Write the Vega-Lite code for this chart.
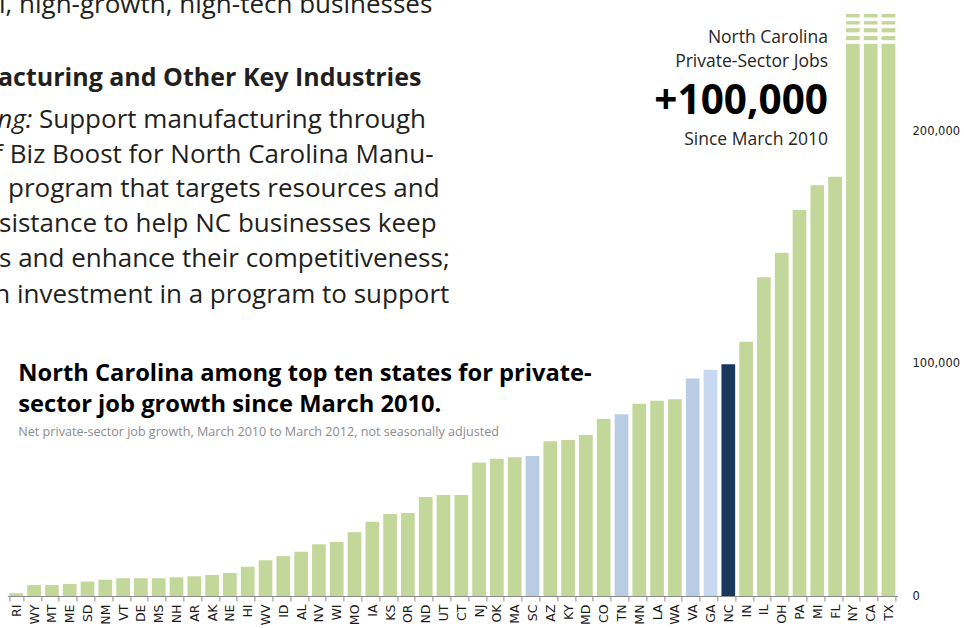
{
  "$schema": "https://vega.github.io/schema/vega-lite/v6.json",
  "width": 890,
  "height": 582,
  "autosize": {"type": "none"},
  "padding": {"left": 7.4, "top": 14, "right": 66.6, "bottom": 32},
  "background": "white",
  "config": {"view": {"stroke": null}},
  "datasets": {
    "jobs": [
      {"state": "RI", "jobs": 1200, "grp": "other"},
      {"state": "WY", "jobs": 4700, "grp": "other"},
      {"state": "MT", "jobs": 4700, "grp": "other"},
      {"state": "ME", "jobs": 5200, "grp": "other"},
      {"state": "SD", "jobs": 6200, "grp": "other"},
      {"state": "NM", "jobs": 7000, "grp": "other"},
      {"state": "VT", "jobs": 7600, "grp": "other"},
      {"state": "DE", "jobs": 7600, "grp": "other"},
      {"state": "MS", "jobs": 7700, "grp": "other"},
      {"state": "NH", "jobs": 8100, "grp": "other"},
      {"state": "AR", "jobs": 8500, "grp": "other"},
      {"state": "AK", "jobs": 9000, "grp": "other"},
      {"state": "NE", "jobs": 9900, "grp": "other"},
      {"state": "HI", "jobs": 12600, "grp": "other"},
      {"state": "WV", "jobs": 15400, "grp": "other"},
      {"state": "ID", "jobs": 17200, "grp": "other"},
      {"state": "AL", "jobs": 19100, "grp": "other"},
      {"state": "NV", "jobs": 22300, "grp": "other"},
      {"state": "WI", "jobs": 23300, "grp": "other"},
      {"state": "MO", "jobs": 27500, "grp": "other"},
      {"state": "IA", "jobs": 32000, "grp": "other"},
      {"state": "KS", "jobs": 35300, "grp": "other"},
      {"state": "OR", "jobs": 35800, "grp": "other"},
      {"state": "ND", "jobs": 42700, "grp": "other"},
      {"state": "UT", "jobs": 43500, "grp": "other"},
      {"state": "CT", "jobs": 43500, "grp": "other"},
      {"state": "NJ", "jobs": 57500, "grp": "other"},
      {"state": "OK", "jobs": 59200, "grp": "other"},
      {"state": "MA", "jobs": 59800, "grp": "other"},
      {"state": "SC", "jobs": 60300, "grp": "neighbor"},
      {"state": "AZ", "jobs": 66700, "grp": "other"},
      {"state": "KY", "jobs": 67200, "grp": "other"},
      {"state": "MD", "jobs": 69400, "grp": "other"},
      {"state": "CO", "jobs": 76300, "grp": "other"},
      {"state": "TN", "jobs": 78300, "grp": "neighbor"},
      {"state": "MN", "jobs": 82900, "grp": "other"},
      {"state": "LA", "jobs": 84200, "grp": "other"},
      {"state": "WA", "jobs": 84800, "grp": "other"},
      {"state": "VA", "jobs": 93800, "grp": "neighbor"},
      {"state": "GA", "jobs": 97500, "grp": "neighbor2"},
      {"state": "NC", "jobs": 99900, "grp": "nc"},
      {"state": "IN", "jobs": 109600, "grp": "other"},
      {"state": "IL", "jobs": 137400, "grp": "other"},
      {"state": "OH", "jobs": 148000, "grp": "other"},
      {"state": "PA", "jobs": 166400, "grp": "other"},
      {"state": "MI", "jobs": 177000, "grp": "other"},
      {"state": "FL", "jobs": 180700, "grp": "other"},
      {"state": "NY", "jobs": 265000, "grp": "other"},
      {"state": "CA", "jobs": 390000, "grp": "other"},
      {"state": "TX", "jobs": 420000, "grp": "other"}
    ],
    "breaks": [
      {"state": "NY", "jobs": 248575}, {"state": "NY", "jobs": 245558}, {"state": "NY", "jobs": 242153}, {"state": "NY", "jobs": 238791},
      {"state": "CA", "jobs": 248575}, {"state": "CA", "jobs": 245558}, {"state": "CA", "jobs": 242153}, {"state": "CA", "jobs": 238791},
      {"state": "TX", "jobs": 248575}, {"state": "TX", "jobs": 245558}, {"state": "TX", "jobs": 242153}, {"state": "TX", "jobs": 238791}
    ],
    "notes": [
      {"kind": "docA", "state": "RI", "jobs": 251290, "txt": "l, high-growth, high-tech businesses"},
      {"kind": "docB", "state": "RI", "jobs": 219825, "txt": "acturing and Other Key Industries"},
      {"kind": "docI", "state": "RI", "jobs": 201722, "txt": "ng:"},
      {"kind": "docC", "state": "MT", "jobs": 201722, "txt": "Support manufacturing through"},
      {"kind": "docD", "state": "RI", "jobs": 186636, "txt": "f Biz Boost for North Carolina Manu-"},
      {"kind": "docE", "state": "RI", "jobs": 171981, "txt": "program that targets resources and"},
      {"kind": "docA", "state": "RI", "jobs": 156895, "txt": "sistance to help NC businesses keep"},
      {"kind": "docA", "state": "RI", "jobs": 141809, "txt": "s and enhance their competitiveness;"},
      {"kind": "docD", "state": "RI", "jobs": 126292, "txt": "n investment in a program to support"},
      {"kind": "call", "state": "FL", "jobs": 238360, "txt": "North Carolina"},
      {"kind": "call", "state": "FL", "jobs": 228145, "txt": "Private-Sector Jobs"},
      {"kind": "big", "state": "FL", "jobs": 207756, "txt": "+100,000"},
      {"kind": "call", "state": "FL", "jobs": 194394, "txt": "Since March 2010"},
      {"kind": "title", "state": "RI", "jobs": 92801, "txt": "North Carolina among top ten states for private-"},
      {"kind": "title", "state": "RI", "jobs": 79439, "txt": "sector job growth since March 2010."},
      {"kind": "sub", "state": "RI", "jobs": 68965, "txt": "Net private-sector job growth, March 2010 to March 2012, not seasonally adjusted"}
    ]
  },
  "encoding": {
    "x": {
      "field": "state", "type": "nominal", "sort": null,
      "scale": {
        "domain": ["RI","WY","MT","ME","SD","NM","VT","DE","MS","NH","AR","AK","NE","HI","WV","ID","AL","NV","WI","MO","IA","KS","OR","ND","UT","CT","NJ","OK","MA","SC","AZ","KY","MD","CO","TN","MN","LA","WA","VA","GA","NC","IN","IL","OH","PA","MI","FL","NY","CA","TX"],
        "paddingInner": 0.23, "paddingOuter": 0.115
      },
      "axis": {
        "title": null, "labelAngle": -90, "labelFont": "DejaVu Sans", "labelFontSize": 12.5,
        "labelColor": "#1a1a1a", "tickBand": "extent", "tickSize": 5, "tickColor": "#8c8c8c",
        "domainColor": "#8c8c8c", "labelPadding": 3, "grid": false
      }
    },
    "y": {
      "field": "jobs", "type": "quantitative",
      "scale": {"domain": [0, 250862], "nice": false, "zero": true},
      "axis": {
        "orient": "right", "title": null, "values": [0, 100000, 200000], "format": ",d",
        "labelFont": "DejaVu Sans", "labelFontSize": 11.5, "labelColor": "#1a1a1a",
        "ticks": false, "domain": false, "grid": false, "labelPadding": 14.6
      }
    }
  },
  "layer": [
    {
      "data": {"name": "jobs"},
      "mark": {"type": "bar", "clip": true},
      "encoding": {
        "color": {
          "field": "grp", "type": "nominal", "legend": null,
          "scale": {"domain": ["other", "neighbor", "neighbor2", "nc"], "range": ["#c4d79b", "#b8cce4", "#c6d9f1", "#17375e"]}
        }
      }
    },
    {
      "data": {"name": "breaks"},
      "mark": {"type": "tick", "color": "white", "thickness": 3.6, "size": 17, "opacity": 1}
    },
    {
      "data": {"name": "notes"},
      "transform": [{"filter": "datum.kind == 'docA'"}],
      "mark": {"type": "text", "align": "left", "baseline": "alphabetic", "font": "Open Sans", "fontSize": 26, "color": "#231f20", "dx": -17.3},
      "encoding": {"text": {"field": "txt"}}
    },
    {
      "data": {"name": "notes"},
      "transform": [{"filter": "datum.kind == 'docD'"}],
      "mark": {"type": "text", "align": "left", "baseline": "alphabetic", "font": "Open Sans", "fontSize": 26, "color": "#231f20", "dx": -22},
      "encoding": {"text": {"field": "txt"}}
    },
    {
      "data": {"name": "notes"},
      "transform": [{"filter": "datum.kind == 'docE'"}],
      "mark": {"type": "text", "align": "left", "baseline": "alphabetic", "font": "Open Sans", "fontSize": 26, "color": "#231f20", "dx": -8.3},
      "encoding": {"text": {"field": "txt"}}
    },
    {
      "data": {"name": "notes"},
      "transform": [{"filter": "datum.kind == 'docC'"}],
      "mark": {"type": "text", "align": "left", "baseline": "alphabetic", "font": "Open Sans", "fontSize": 26, "color": "#231f20", "dx": -12.9},
      "encoding": {"text": {"field": "txt"}}
    },
    {
      "data": {"name": "notes"},
      "transform": [{"filter": "datum.kind == 'docI'"}],
      "mark": {"type": "text", "align": "left", "baseline": "alphabetic", "font": "Open Sans", "fontSize": 26, "fontStyle": "italic", "color": "#231f20", "dx": -19},
      "encoding": {"text": {"field": "txt"}}
    },
    {
      "data": {"name": "notes"},
      "transform": [{"filter": "datum.kind == 'docB'"}],
      "mark": {"type": "text", "align": "left", "baseline": "alphabetic", "font": "Open Sans", "fontSize": 25, "fontWeight": "bold", "color": "#231f20", "dx": -18.3},
      "encoding": {"text": {"field": "txt"}}
    },
    {
      "data": {"name": "notes"},
      "transform": [{"filter": "datum.kind == 'call'"}],
      "mark": {"type": "text", "align": "right", "baseline": "alphabetic", "font": "Open Sans", "fontSize": 17.5, "color": "#262626", "dx": -7.1},
      "encoding": {"text": {"field": "txt"}}
    },
    {
      "data": {"name": "notes"},
      "transform": [{"filter": "datum.kind == 'big'"}],
      "mark": {"type": "text", "align": "right", "baseline": "alphabetic", "font": "Open Sans", "fontSize": 40.5, "fontWeight": "bold", "color": "#000000", "dx": -7.1},
      "encoding": {"text": {"field": "txt"}}
    },
    {
      "data": {"name": "notes"},
      "transform": [{"filter": "datum.kind == 'title'"}],
      "mark": {"type": "text", "align": "left", "baseline": "alphabetic", "font": "Open Sans", "fontSize": 23.7, "fontWeight": "bold", "color": "#000000", "dx": 2},
      "encoding": {"text": {"field": "txt"}}
    },
    {
      "data": {"name": "notes"},
      "transform": [{"filter": "datum.kind == 'sub'"}],
      "mark": {"type": "text", "align": "left", "baseline": "alphabetic", "font": "Open Sans", "fontSize": 12.6, "color": "#8c8c8c", "dx": 2},
      "encoding": {"text": {"field": "txt"}}
    }
  ]
}
